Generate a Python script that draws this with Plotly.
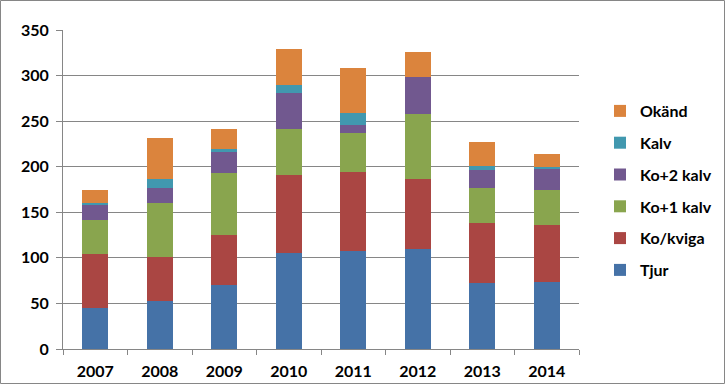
import plotly.graph_objects as go

years = ["2007", "2008", "2009", "2010", "2011", "2012", "2013", "2014"]
tjur = [45, 53, 70, 105, 108, 110, 72, 74]
ko_kviga = [59, 48, 55, 86, 86, 77, 66, 62]
ko1 = [38, 59, 68, 50, 43, 71, 39, 39]
ko2 = [16, 17, 23, 40, 9, 40, 19, 22]
kalv = [2, 9, 3, 9, 13, 0, 5, 3]
okand = [15, 45, 22, 39, 49, 28, 26, 14]

series = [
    ("Tjur", tjur, "#4572A7"),
    ("Ko/kviga", ko_kviga, "#AA4643"),
    ("Ko+1 kalv", ko1, "#89A54E"),
    ("Ko+2 kalv", ko2, "#71588F"),
    ("Kalv", kalv, "#4198AF"),
    ("Okänd", okand, "#DB843D"),
]

fig = go.Figure()
n = len(series)
for i, (name, vals, col) in enumerate(series):
    fig.add_trace(go.Bar(x=years, y=vals, name=name, marker_color=col,
                         marker_line_width=0, legendgroup=name,
                         legendrank=n - i))

font = dict(family="Lato, Open Sans, sans-serif", size=16, color="black", weight="bold")
L, R, T, B = 63, 146, 30, 35
W, H = 725, 384
pw, ph = W - L - R, H - T - B

fig.update_layout(
    barmode="stack", bargap=0.6,
    width=W, height=H,
    margin=dict(l=L, r=R, t=T, b=B, autoexpand=False),
    paper_bgcolor="white", plot_bgcolor="white",
    font=font,
    showlegend=True,
    legend=dict(traceorder="grouped", tracegroupgap=8,
                x=(600 - L) / pw, xanchor="left",
                y=(H - B - 94) / ph, yanchor="top",
                font=dict(family="Lato, Open Sans, sans-serif", size=16, color="black", weight="bold"),
                itemwidth=30, bgcolor="rgba(0,0,0,0)"),
    xaxis=dict(showline=True, linecolor="#868686", linewidth=1,
               ticks="outside", ticklen=5, tickcolor="#868686",
               tickson="boundaries", showgrid=False, automargin=False,
               ticklabelstandoff=8),
    yaxis=dict(range=[0, 350], dtick=50, showgrid=True, gridcolor="#868686",
               gridwidth=1, showline=True, linecolor="#868686",
               ticks="outside", ticklen=6, tickcolor="#868686",
               zeroline=False, ticklabelstandoff=4, automargin=False),
    shapes=[dict(type="rect", xref="paper", yref="paper",
                 x0=-(L - 0.5) / pw, x1=(W - L - 0.5) / pw,
                 y0=-(B - 0.5) / ph, y1=(H - B - 0.5) / ph,
                 line=dict(color="#868686", width=1), fillcolor="rgba(0,0,0,0)")],
)

fig.write_html("out.html", config={"displayModeBar": False},
               post_script="document.body.style.margin='0';")
